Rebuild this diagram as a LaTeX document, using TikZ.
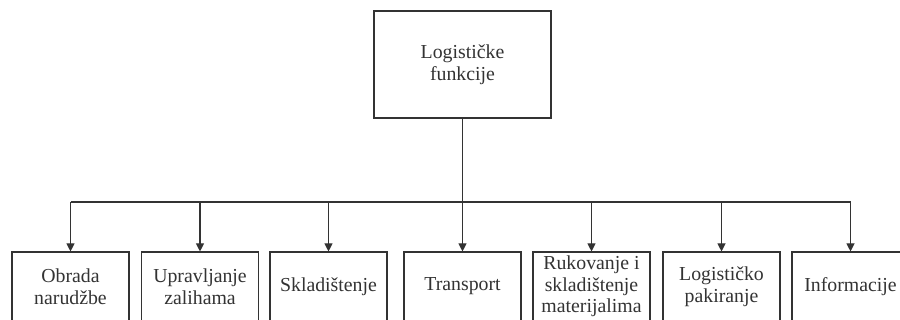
\documentclass[tikz,border=0pt]{standalone}
\usepackage{fontspec}
\setmainfont{Liberation Serif}
\usetikzlibrary{arrows.meta}
\definecolor{ink}{HTML}{333333}
\begin{document}
\begin{tikzpicture}[x=1pt,y=-1pt,
  fbox/.style={draw=ink, line width=1.1pt, fill=white, inner sep=0pt, align=center, text=ink,
    font=\fontsize{19.8}{21.5}\selectfont},
  topbox/.style={fbox, minimum width=177pt, minimum height=107pt, font=\fontsize{19.8}{22.5}\selectfont},
  subbox/.style={fbox, minimum width=117pt, minimum height=69pt},
  conn/.style={draw=ink, line width=1.1pt},
  arr/.style={conn, -{Triangle[width=8pt,length=8pt]}}]
\useasboundingbox (0,0) rectangle (900,320);
\clip (0,0) rectangle (900,320);
\node[topbox] (top) at (462.5,64.5) {Logističke\\funkcije};
\node[subbox] (b1) at (70.5,286.5) {Obrada\\narudžbe};
\node[subbox] (b2) at (200,286.5) {Upravljanje\\zalihama};
\node[subbox] (b3) at (328.5,286.5) {Skladištenje};
\node[subbox] (b4) at (462.5,286.5) {Transport};
\node[subbox] (b5) at (591.5,286.5) {Rukovanje i\\skladištenje\\materijalima};
\node[subbox] (b6) at (721.5,286.5) {Logističko\\pakiranje};
\node[subbox] (b7) at (850.5,286.5) {Informacije};
\coordinate (bus) at (462.5,202);
\draw[conn] (top.south) -- (bus);
\draw[conn] (b1.north |- bus) -- (b7.north |- bus);
\foreach \b in {b1,b2,b3,b4,b5,b6,b7}
  \draw[arr] (\b.north |- bus) -- (\b.north);
\end{tikzpicture}
\end{document}
